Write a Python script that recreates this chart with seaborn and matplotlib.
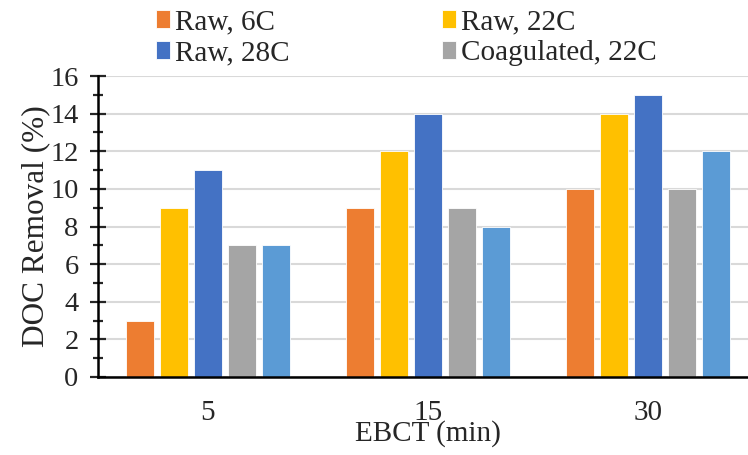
import matplotlib
matplotlib.use("Agg")
import matplotlib.pyplot as plt
import seaborn as sns
import pandas as pd
from matplotlib.ticker import MultipleLocator

ebct = ["5", "15", "30"]
series = ["Raw, 6C", "Raw, 22C", "Raw, 28C", "Coagulated, 22C", "Coagulated, 28C"]
raw_6c = [3, 9, 10]
raw_22c = [9, 12, 14]
raw_28c = [11, 14, 15]
coag_22c = [7, 9, 10]
coag_28c = [7, 8, 12]
colors = ["#ED7D31", "#FFC000", "#4472C4", "#A5A5A5", "#5B9BD5"]

values = [raw_6c, raw_22c, raw_28c, coag_22c, coag_28c]
rows = []
for s, vals in zip(series, values):
    for e, v in zip(ebct, vals):
        rows.append({"EBCT": e, "Series": s, "Removal": v})
df = pd.DataFrame(rows)

sns.set_style("white")
plt.rcParams["font.family"] = ["Liberation Serif", "DejaVu Serif"]

fig = plt.figure(figsize=(7.48, 4.55), dpi=100)
ax = fig.add_axes([98 / 748, 78 / 455, 660 / 748, 301 / 455])

sns.barplot(data=df, x="EBCT", y="Removal", hue="Series", order=ebct,
            hue_order=series, palette=colors, saturation=1, width=0.773, gap=0.2,
            edgecolor="white", linewidth=0.6, ax=ax, legend=True)

ax.set_ylim(0, 16)
ax.set_xlim(-0.5, 2.5)
ax.yaxis.set_major_locator(MultipleLocator(2))
ax.yaxis.set_minor_locator(MultipleLocator(1))
ax.grid(axis="y", color="#D9D9D9", linewidth=1.5, zorder=0)
ax.set_axisbelow(True)
for s in ["top", "right"]:
    ax.spines[s].set_visible(False)
for s in ["left", "bottom"]:
    ax.spines[s].set_color("black")
    ax.spines[s].set_linewidth(1.8)
ax.tick_params(axis="y", which="major", direction="inout", length=12, width=1.6,
               labelsize=20.5, pad=8, left=True)
ax.tick_params(axis="y", which="minor", direction="inout", length=6.5, width=1.6, left=True)
ax.tick_params(axis="x", length=0, labelsize=21, pad=16.5)
ax.set_ylabel("DOC Removal (%)", fontsize=22.5, labelpad=0)
ax.set_xlabel("EBCT (min)", fontsize=21, labelpad=-4.5)

handles, labels = ax.get_legend_handles_labels()
ax.get_legend().remove()
order = [0, 2, 1, 3]
fig.legend([handles[i] for i in order], [labels[i] for i in order], ncol=2,
           loc="upper left", bbox_to_anchor=(144 / 748, 1.005), frameon=False,
           fontsize=21, handlelength=0.5, handleheight=0.55, handletextpad=0.17,
           columnspacing=5.2, labelspacing=0.17, borderaxespad=0)

fig.savefig("out.png", dpi=100)
